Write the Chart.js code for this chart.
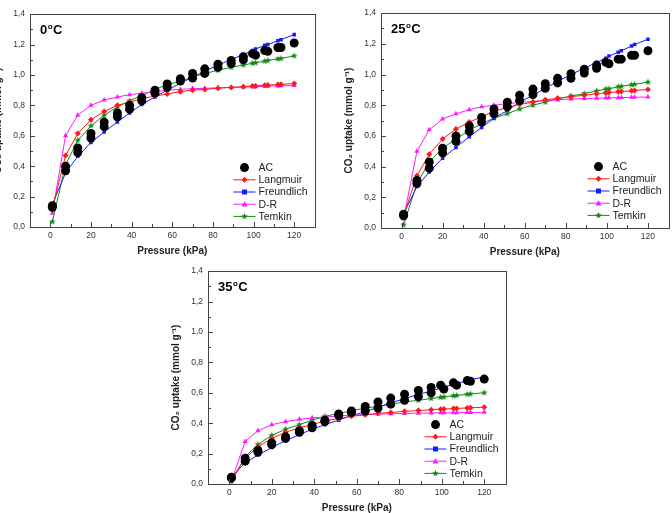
<!DOCTYPE html>
<html>
<head>
<meta charset="utf-8">
<script src="https://cdn.jsdelivr.net/npm/chart.js@4.4.0/dist/chart.umd.min.js"></script>
<style>
html, body { margin: 0; padding: 0; background: #fff; width: 672px; height: 513px; overflow: hidden; position: relative; }
canvas { position: absolute; }
</style>
</head>
<body>
<canvas id="c0"></canvas>
<canvas id="c25"></canvas>
<canvas id="c35"></canvas>
<script>
// Pressure grid of the fitted curves (kPa)
const pressure = [1, 7.5, 13.5, 20, 26.5, 33, 39, 45, 51.5, 57.5, 64, 70, 76, 82.5, 89, 95, 99.5, 101, 105.5, 107, 112, 113.5, 120];
// Pressure of the measured AC points (two per step)
const acPressure = [1, 1, 7.5, 7.5, 13.5, 13.5, 20, 20, 26.5, 26.5, 33, 33, 39, 39, 45, 45, 51.5, 51.5, 57.5, 57.5, 64, 64, 70, 70, 76, 76, 82.5, 82.5, 89, 89, 95, 95, 99.5, 101, 105.5, 107, 112, 113.5, 120];

const xTicks = [0, 20, 40, 60, 80, 100, 120];
const yTicks = [0, 0.2, 0.4, 0.6, 0.8, 1.0, 1.2, 1.4];
const yTickLabels = ['0,0', '0,2', '0,4', '0,6', '0,8', '1,0', '1,2', '1,4'];
const seriesNames = ['AC', 'Langmuir', 'Freundlich', 'D-R', 'Temkin'];

// 0 C
const ac0 = [0.13, 0.14, 0.37, 0.40, 0.49, 0.52, 0.585, 0.615, 0.66, 0.69, 0.725, 0.75, 0.775, 0.80, 0.83, 0.85, 0.88, 0.90, 0.92, 0.94, 0.96, 0.975, 0.98, 1.01, 1.01, 1.04, 1.05, 1.07, 1.075, 1.095, 1.10, 1.12, 1.14, 1.13, 1.16, 1.155, 1.18, 1.18, 1.21];
const langmuir0 = [0.12, 0.47, 0.615, 0.705, 0.76, 0.80, 0.82, 0.845, 0.86, 0.875, 0.89, 0.90, 0.905, 0.913, 0.918, 0.923, 0.927, 0.928, 0.932, 0.933, 0.937, 0.938, 0.943];
const freundlich0 = [0.15, 0.355, 0.465, 0.555, 0.625, 0.69, 0.75, 0.805, 0.855, 0.90, 0.945, 0.985, 1.025, 1.065, 1.10, 1.135, 1.16, 1.17, 1.195, 1.20, 1.225, 1.232, 1.265];
const dr0 = [0.09, 0.60, 0.735, 0.80, 0.835, 0.855, 0.87, 0.88, 0.89, 0.90, 0.905, 0.91, 0.912, 0.915, 0.918, 0.92, 0.922, 0.923, 0.925, 0.926, 0.928, 0.929, 0.93];
const temkin0 = [0.035, 0.41, 0.57, 0.665, 0.735, 0.79, 0.83, 0.865, 0.905, 0.935, 0.96, 0.985, 1.01, 1.03, 1.05, 1.065, 1.077, 1.08, 1.09, 1.095, 1.105, 1.108, 1.125];

// 25 C
const ac25 = [0.09, 0.08, 0.29, 0.31, 0.39, 0.43, 0.49, 0.52, 0.565, 0.60, 0.63, 0.665, 0.69, 0.72, 0.745, 0.775, 0.79, 0.82, 0.83, 0.865, 0.87, 0.905, 0.91, 0.94, 0.945, 0.975, 0.975, 1.005, 1.01, 1.035, 1.04, 1.06, 1.08, 1.07, 1.10, 1.10, 1.125, 1.125, 1.155];
const langmuir25 = [0.08, 0.34, 0.48, 0.58, 0.645, 0.69, 0.725, 0.76, 0.785, 0.805, 0.82, 0.835, 0.845, 0.855, 0.865, 0.875, 0.88, 0.882, 0.887, 0.889, 0.894, 0.896, 0.902];
const freundlich25 = [0.09, 0.27, 0.365, 0.455, 0.525, 0.595, 0.655, 0.715, 0.765, 0.82, 0.865, 0.91, 0.955, 1.00, 1.04, 1.08, 1.105, 1.12, 1.145, 1.155, 1.185, 1.195, 1.23];
const dr25 = [0.06, 0.50, 0.64, 0.71, 0.745, 0.77, 0.79, 0.80, 0.81, 0.818, 0.825, 0.83, 0.836, 0.84, 0.843, 0.845, 0.847, 0.848, 0.849, 0.85, 0.851, 0.852, 0.853];
const temkin25 = [0.02, 0.29, 0.43, 0.52, 0.58, 0.635, 0.68, 0.715, 0.745, 0.775, 0.80, 0.82, 0.84, 0.86, 0.875, 0.893, 0.905, 0.907, 0.92, 0.923, 0.933, 0.936, 0.95];

// 35 C
const ac35 = [0.04, 0.045, 0.15, 0.17, 0.21, 0.22, 0.26, 0.27, 0.30, 0.31, 0.34, 0.35, 0.37, 0.385, 0.41, 0.42, 0.45, 0.46, 0.47, 0.48, 0.48, 0.51, 0.50, 0.54, 0.525, 0.565, 0.55, 0.59, 0.575, 0.615, 0.60, 0.635, 0.65, 0.625, 0.665, 0.65, 0.68, 0.675, 0.69];
const langmuir35 = [0.03, 0.17, 0.245, 0.30, 0.34, 0.37, 0.39, 0.415, 0.43, 0.445, 0.455, 0.465, 0.47, 0.478, 0.483, 0.488, 0.492, 0.493, 0.496, 0.497, 0.50, 0.501, 0.505];
const freundlich35 = [0.045, 0.14, 0.19, 0.24, 0.285, 0.325, 0.36, 0.39, 0.42, 0.45, 0.475, 0.505, 0.535, 0.56, 0.59, 0.61, 0.63, 0.637, 0.655, 0.66, 0.68, 0.685, 0.705];
const dr35 = [0.02, 0.28, 0.35, 0.39, 0.41, 0.425, 0.435, 0.44, 0.448, 0.452, 0.456, 0.46, 0.462, 0.464, 0.466, 0.467, 0.468, 0.468, 0.469, 0.469, 0.47, 0.47, 0.471];
const temkin35 = [0.015, 0.18, 0.26, 0.32, 0.36, 0.39, 0.42, 0.445, 0.465, 0.48, 0.50, 0.51, 0.525, 0.54, 0.55, 0.562, 0.57, 0.572, 0.58, 0.582, 0.59, 0.592, 0.60];

const FONT = '"Liberation Sans", Arial, sans-serif';
const Y_W = 42, X_H = 34, PAD_T = 6, PAD_R = 4;

// small filled star used for Temkin
function starImage(color, r) {
    const c = document.createElement('canvas');
    c.width = c.height = r * 2 + 2;
    const g = c.getContext('2d');
    g.fillStyle = color;
    g.beginPath();
    for (let i = 0; i < 10; i++) {
        const a = -Math.PI / 2 + i * Math.PI / 5;
        const rr = i % 2 ? r * 0.45 : r;
        g.lineTo(r + 1 + rr * Math.cos(a), r + 1 + rr * Math.sin(a));
    }
    g.closePath();
    g.fill();
    return c;
}
const greenStar = starImage('#138a13', 3.5);

function drawMarker(ctx, ds, x, y) {
    const r = ds.pointRadius;
    ctx.fillStyle = ds.backgroundColor;
    if (ds.pointStyle instanceof HTMLCanvasElement) {
        ctx.drawImage(ds.pointStyle, x - ds.pointStyle.width / 2, y - ds.pointStyle.height / 2);
        return;
    }
    ctx.beginPath();
    if (ds.pointStyle === 'circle') ctx.arc(x, y, r, 0, Math.PI * 2);
    else if (ds.pointStyle === 'rect') ctx.rect(x - r, y - r, 2 * r, 2 * r);
    else if (ds.pointStyle === 'rectRot') { ctx.moveTo(x, y - r); ctx.lineTo(x + r, y); ctx.lineTo(x, y + r); ctx.lineTo(x - r, y); }
    else if (ds.pointStyle === 'triangle') { ctx.moveTo(x, y - r); ctx.lineTo(x + r, y + r * 0.8); ctx.lineTo(x - r, y + r * 0.8); }
    ctx.closePath();
    ctx.fill();
}

// frame, inward ticks, temperature label and legend
const decor = {
    id: 'decor',
    afterDraw(chart, args, opts) {
        const ctx = chart.ctx;
        const a = chart.chartArea;
        const xs = chart.scales.x, ys = chart.scales.y;
        ctx.save();
        ctx.strokeStyle = '#444';
        ctx.lineWidth = 1;
        ctx.strokeRect(Math.round(a.left) + 0.5, Math.round(a.top) + 0.5, Math.round(a.right - a.left), Math.round(a.bottom - a.top));
        ctx.beginPath();
        for (let v = 0; v <= 120; v += 10) {
            const px = Math.round(xs.getPixelForValue(v)) + 0.5;
            const len = v % 20 === 0 ? 5 : 3;
            ctx.moveTo(px, a.bottom);
            ctx.lineTo(px, a.bottom - len);
        }
        for (let i = 0; i <= 14; i++) {
            const py = Math.round(ys.getPixelForValue(i / 10)) + 0.5;
            const len = i % 2 === 0 ? 5 : 3;
            ctx.moveTo(a.left, py);
            ctx.lineTo(a.left + len, py);
        }
        ctx.stroke();

        // temperature label
        ctx.fillStyle = '#000';
        ctx.textBaseline = 'alphabetic';
        ctx.textAlign = 'left';
        let tx = a.left + 10;
        const ty = a.top + 20;
        ctx.font = 'bold 13px ' + FONT;
        ctx.fillText(opts.temp, tx, ty);
        tx += ctx.measureText(opts.temp).width + 0.5;
        ctx.font = 'bold 8px ' + FONT;
        ctx.fillText('o', tx, ty - 5);
        tx += ctx.measureText('o').width + 0.5;
        ctx.font = 'bold 13px ' + FONT;
        ctx.fillText('C', tx, ty);

        // legend
        ctx.font = '10.5px ' + FONT;
        ctx.textBaseline = 'middle';
        chart.data.datasets.forEach((ds, i) => {
            const y = a.top + 153 + i * 12.2;
            const x0 = a.right - 81;
            if (ds.showLine !== false) {
                ctx.strokeStyle = ds.borderColor;
                ctx.beginPath();
                ctx.moveTo(x0, y + 0.5);
                ctx.lineTo(x0 + 22, y + 0.5);
                ctx.stroke();
            }
            drawMarker(ctx, ds, x0 + 11, y + 0.5);
            ctx.fillStyle = '#222';
            ctx.fillText(ds.label, x0 + 25, y + 1);
        });
        ctx.restore();
    }
};

function pts(xsArr, ysArr) {
    return xsArr.map((p, i) => ({ x: p, y: ysArr[i] }));
}

function makeChart(id, temp, box, ac, lang, freu, dr, temk) {
    const canvas = document.getElementById(id);
    const w = (box.right - box.left) + Y_W + PAD_R;
    const h = (box.bottom - box.top) + PAD_T + X_H;
    canvas.width = w;
    canvas.height = h;
    canvas.style.left = (box.left - Y_W) + 'px';
    canvas.style.top = (box.top - PAD_T) + 'px';
    canvas.style.width = w + 'px';
    canvas.style.height = h + 'px';

    const line = (name, data, color, style, r) => ({
        label: name,
        data: pts(pressure, data),
        borderColor: color,
        backgroundColor: color,
        borderWidth: 1,
        pointStyle: style,
        pointRadius: r,
        pointBorderWidth: 0,
        tension: 0
    });

    new Chart(canvas.getContext('2d'), {
        type: 'line',
        data: {
            datasets: [
                {
                    label: seriesNames[0],
                    data: pts(acPressure, ac),
                    showLine: false,
                    pointStyle: 'circle',
                    pointRadius: 4.5,
                    pointBorderWidth: 0,
                    backgroundColor: '#000',
                    borderColor: '#000'
                },
                line(seriesNames[1], lang, '#ff1a1a', 'rectRot', 3),
                line(seriesNames[2], freu, '#1a1aff', 'rect', 2.5),
                line(seriesNames[3], dr, '#ff1aff', 'triangle', 3),
                line(seriesNames[4], temk, '#138a13', greenStar, 3.5)
            ]
        },
        options: {
            responsive: false,
            animation: false,
            layout: { padding: { top: PAD_T, right: PAD_R, left: 0, bottom: 0 } },
            plugins: {
                legend: { display: false },
                tooltip: { enabled: false },
                decor: { temp: temp }
            },
            scales: {
                x: {
                    type: 'linear',
                    min: -10,
                    max: 130,
                    afterBuildTicks: s => { s.ticks = xTicks.map(v => ({ value: v })); },
                    afterFit: s => { s.height = X_H; },
                    grid: { display: false, drawTicks: false },
                    border: { display: false },
                    ticks: { padding: 4, color: '#333', font: { family: FONT, size: 8.5 }, maxRotation: 0 },
                    title: { display: true, text: 'Pressure (kPa)', color: '#222', padding: { top: 4, bottom: 4 }, font: { family: FONT, size: 10, weight: 'bold' } }
                },
                y: {
                    min: 0,
                    max: 1.4,
                    afterBuildTicks: s => { s.ticks = yTicks.map(v => ({ value: v })); },
                    afterFit: s => { s.width = Y_W; },
                    grid: { display: false, drawTicks: false },
                    border: { display: false },
                    ticks: {
                        padding: 5, color: '#333', font: { family: FONT, size: 8.5 },
                        callback: (v) => yTickLabels[yTicks.findIndex(t => Math.abs(t - v) < 1e-6)]
                    },
                    title: { display: true, text: 'CO₂ uptake (mmol g⁻¹)', color: '#222', padding: 4, font: { family: FONT, size: 10, weight: 'bold' } }
                }
            }
        },
        plugins: [decor]
    });
}

document.addEventListener('DOMContentLoaded', function() {
    makeChart('c0', '0', { left: 30, top: 10, right: 315, bottom: 227 }, ac0, langmuir0, freundlich0, dr0, temkin0);
    makeChart('c25', '25', { left: 381, top: 9, right: 669, bottom: 228 }, ac25, langmuir25, freundlich25, dr25, temkin25);
    makeChart('c35', '35', { left: 208, top: 267, right: 506, bottom: 484 }, ac35, langmuir35, freundlich35, dr35, temkin35);
});
</script>
</body>
</html>
